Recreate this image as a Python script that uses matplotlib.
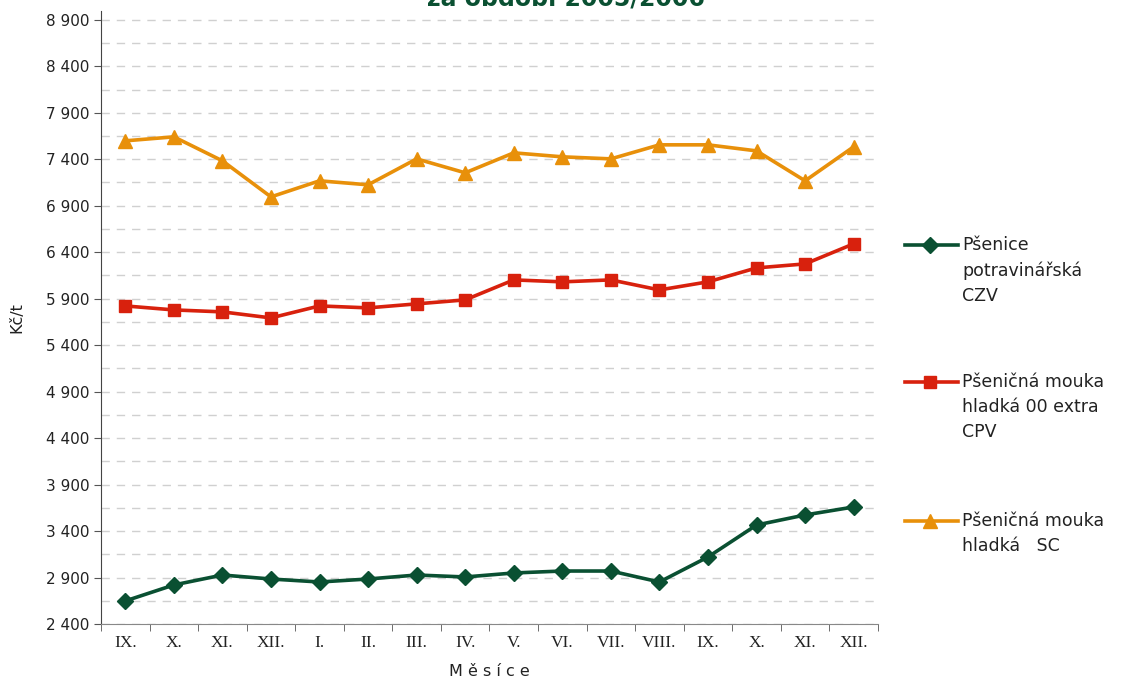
import matplotlib
matplotlib.use('Agg')
import matplotlib.pyplot as plt
from matplotlib.lines import Line2D

# měsíce IX.2005 - XII.2006
months = ['IX.', 'X.', 'XI.', 'XII.', 'I.', 'II.', 'III.', 'IV.', 'V.', 'VI.',
          'VII.', 'VIII.', 'IX.', 'X.', 'XI.', 'XII.']

psenice_czv = [2648, 2820, 2927, 2884, 2852, 2884, 2927, 2906, 2949, 2970,
               2970, 2852, 3121, 3465, 3573, 3659]
mouka_00_cpv = [5822, 5779, 5758, 5693, 5822, 5801, 5844, 5887, 6102, 6081,
                6102, 5994, 6081, 6231, 6274, 6490]
mouka_sc = [7598, 7641, 7383, 6995, 7168, 7125, 7404, 7254, 7469, 7426,
            7404, 7555, 7555, 7490, 7168, 7534]

labels = ['Pšenice\npotravinářská\nCZV',
          'Pšeničná mouka\nhladká 00 extra\nCPV',
          'Pšeničná mouka\nhladká   SC']
colors = ['#0a5032', '#d8210d', '#e8900a']
markers = ['D', 's', '^']
msizes = [8, 8.5, 10]

fig = plt.figure(figsize=(11.26, 6.79), dpi=100)
ax = fig.add_axes([0.0897, 0.081, 0.69, 0.9035])

x = list(range(len(months)))
for ys, c, m, ms in zip([psenice_czv, mouka_00_cpv, mouka_sc], colors, markers, msizes):
    ax.plot(x, ys, color=c, lw=2.6, marker=m, markersize=ms, zorder=3)

ax.set_xlim(-0.5, len(months) - 0.5)
ax.set_ylim(2400, 9000)
major = list(range(2400, 8901, 500))
ax.set_yticks(major)
ax.set_yticks(list(range(2650, 8700, 500)), minor=True)
ax.set_yticklabels([f'{v:,}'.replace(',', ' ') for v in major], fontsize=11, color='#222222')
ax.tick_params(axis='y', which='minor', length=0)
ax.tick_params(axis='y', which='major', length=5, color='#555555')
ax.grid(axis='y', which='both', color='#d0d0d0', linestyle=(0, (6, 5)), lw=1)
ax.set_axisbelow(True)

ax.set_xticks(x)
ax.set_xticklabels(months, fontsize=12.5, family='Liberation Serif', color='#222222')
ax.tick_params(axis='x', which='major', length=0, pad=8)
ax.set_xticks([i - 0.5 for i in range(len(months) + 1)], minor=True)
ax.tick_params(axis='x', which='minor', length=5, color='#555555')

for s in ['top', 'right']:
    ax.spines[s].set_visible(False)
ax.spines['left'].set_color('#444444')
ax.spines['bottom'].set_color('#888888')

ax.set_xlabel('M ě s í c e', fontsize=11.5, color='#222222', labelpad=9)
ax.set_ylabel('Kč/t', fontsize=11.5, color='#222222', labelpad=15)

fig.text(0.503, 0.992, 'za období 2005/2006', ha='center', va='baseline',
         fontsize=17, fontweight='bold', color='#0a5032')

# legenda vpravo
leg_y = [245, 382, 521]
for lab, c, m, ms, yp in zip(labels, colors, markers, msizes, leg_y):
    yf = 1 - yp / 679
    fig.add_artist(Line2D([905 / 1126, 958 / 1126], [yf, yf], transform=fig.transFigure,
                          color=c, lw=2.6))
    fig.add_artist(Line2D([930 / 1126], [yf], transform=fig.transFigure, color=c,
                          marker=m, markersize=ms, lw=0))
    fig.text(962 / 1126, yf + 9 / 679, lab, ha='left', va='top', fontsize=12.5,
             color='#222222', linespacing=1.5)

fig.savefig('out.png', dpi=100)
